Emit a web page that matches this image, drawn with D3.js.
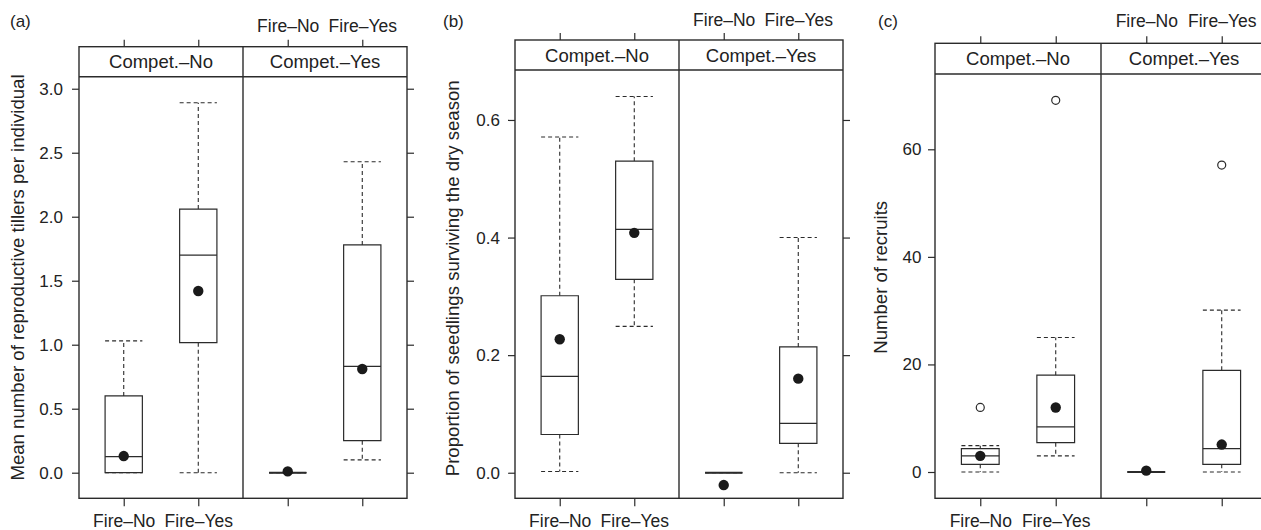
<!DOCTYPE html>
<html>
<head>
<meta charset="utf-8">
<script src="https://cdn.jsdelivr.net/npm/d3@7"></script>
<style>
  body { margin: 0; background: #fff; }
  svg { display: block; }
  svg text { font-family: "Liberation Sans", Arial, sans-serif; }
</style>
</head>
<body>
<svg id="chart" width="1261" height="530"></svg>
<script>
// factor levels
var competLevels = ["Compet.\u2013No", "Compet.\u2013Yes"];
var fireLevels = ["Fire\u2013No", "Fire\u2013Yes"];

// box stats per group, order: [CompNo/FireNo, CompNo/FireYes, CompYes/FireNo, CompYes/FireYes]
// each row: [lower whisker, q1, median, q3, upper whisker]
var tillersBox = [[0, 0, 0.125, 0.60, 1.03], [0, 1.016, 1.70, 2.06, 2.89], [0, 0, 0, 0, 0], [0.10, 0.25, 0.83, 1.78, 2.43]];
var tillersMean = [0.13, 1.42, 0.01, 0.81];
var tillersOut = [[], [], [], []];
var tillersTicks = [0, 0.5, 1, 1.5, 2, 2.5, 3];

var survivalBox = [[0.002, 0.065, 0.164, 0.301, 0.571], [0.249, 0.329, 0.414, 0.530, 0.640], [0, 0, 0, 0, 0], [0, 0.05, 0.084, 0.214, 0.40]];
var survivalMean = [0.227, 0.408, -0.021, 0.16];
var survivalOut = [[], [], [], []];
var survivalTicks = [0, 0.2, 0.4, 0.6];

var recruitsBox = [[0, 1.43, 3.0, 4.33, 4.9], [3, 5.45, 8.4, 18, 25], [0, 0, 0, 0, 0], [0, 1.43, 4.33, 18.9, 30.1]];
var recruitsMean = [3, 12, 0.25, 5.1];
var recruitsOut = [[12], [69.1], [], [57.06]];
var recruitsTicks = [0, 20, 40, 60];

var panels = [
    {tag: "(a)", ylab: "Mean number of reproductive tillers per individual", box: tillersBox, mean: tillersMean, out: tillersOut,
     ticks: tillersTicks, fmt: d3.format(".1f"), yDom: [-0.2, 3.094],
     x0: 79, w: 164, top: 46.7, strip: 76.7, bottom: 498.3, tagX: 10, ylabX: 24, ylabY: 277.5, topPad: 8, leftPad: 9},
    {tag: "(b)", ylab: "Proportion of seedlings surviving the dry season", box: survivalBox, mean: survivalMean, out: survivalOut,
     ticks: survivalTicks, fmt: d3.format(".1f"), yDom: [-0.0435, 0.685],
     x0: 515, w: 164, top: 40, strip: 70, bottom: 498.3, tagX: 443, ylabX: 459, ylabY: 278.3, topPad: 7, leftPad: 8},
    {tag: "(c)", ylab: "Number of recruits", box: recruitsBox, mean: recruitsMean, out: recruitsOut,
     ticks: recruitsTicks, fmt: d3.format("d"), yDom: [-4.89, 74.0],
     x0: 935, w: 166, top: 43.3, strip: 74, bottom: 498.3, tagX: 878, ylabX: 886.7, ylabY: 277.3, topPad: 9.5, leftPad: 6.5}
];

var ink = "#2b2b2b";
var svg = d3.select("#chart");

panels.forEach(function (p) {

    var g = svg.append("g");

    var y = d3.scaleLinear().domain(p.yDom).range([p.bottom, p.strip]);

    // one point scale per facet
    var xs = competLevels.map(function (c, i) {
        return d3.scalePoint().domain(fireLevels).range([p.x0 + i * p.w, p.x0 + (i + 1) * p.w]).padding(0.6);
    });
    var boxW = xs[0].step() * 0.5;

    // axes
    g.append("g")
        .attr("class", "yax")
        .attr("transform", "translate(" + p.x0 + ",0)")
        .call(d3.axisLeft(y).tickValues(p.ticks).tickFormat(p.fmt).tickSize(7).tickPadding(p.leftPad));

    g.append("g")
        .attr("transform", "translate(" + (p.x0 + 2 * p.w) + ",0)")
        .call(d3.axisRight(y).tickValues(p.ticks).tickFormat("").tickSize(7));

    xs.forEach(function (x, i) {
        g.append("g")
            .attr("class", "xax")
            .attr("transform", "translate(0," + p.top + ")")
            .call(d3.axisTop(x).tickSize(7).tickPadding(p.topPad).tickFormat(i === 1 ? null : ""));
        g.append("g")
            .attr("class", "xax")
            .attr("transform", "translate(0," + p.bottom + ")")
            .call(d3.axisBottom(x).tickSize(8).tickPadding(8).tickFormat(i === 0 ? null : ""));
    });

    g.selectAll(".domain").remove();
    g.selectAll(".tick line").attr("stroke", ink).attr("stroke-width", 1.2);
    g.selectAll(".tick text").attr("fill", "#222").attr("font-family", null);
    g.selectAll(".yax .tick text").style("font-size", "17px");
    g.selectAll(".xax .tick text").style("font-size", "17.5px");

    // frame, strips, divider
    g.append("rect")
        .attr("x", p.x0).attr("y", p.top)
        .attr("width", 2 * p.w).attr("height", p.bottom - p.top)
        .attr("fill", "none").attr("stroke", ink).attr("stroke-width", 1.4);

    g.append("line")
        .attr("x1", p.x0).attr("x2", p.x0 + 2 * p.w)
        .attr("y1", p.strip).attr("y2", p.strip)
        .attr("stroke", ink).attr("stroke-width", 1.4);

    g.append("line")
        .attr("x1", p.x0 + p.w).attr("x2", p.x0 + p.w)
        .attr("y1", p.top).attr("y2", p.bottom)
        .attr("stroke", ink).attr("stroke-width", 1.4);

    g.selectAll(".strip")
        .data(competLevels)
        .enter().append("text")
        .attr("x", function (d, i) { return p.x0 + (i + 0.5) * p.w; })
        .attr("y", (p.top + p.strip) / 2)
        .attr("dy", "0.36em")
        .attr("text-anchor", "middle")
        .style("font-size", "18.5px")
        .attr("fill", "#222")
        .text(function (d) { return d; });

    // boxes
    var groups = p.box.map(function (b, k) {
        var ci = Math.floor(k / 2), fi = k % 2;
        return {cx: xs[ci](fireLevels[fi]), b: b, mean: p.mean[k], out: p.out[k]};
    });

    var grp = g.selectAll(".grp").data(groups).enter().append("g");

    // upper and lower whiskers
    grp.append("path")
        .attr("d", function (d) {
            return "M" + d.cx + "," + y(d.b[3]) + "V" + y(d.b[4]) +
                "M" + (d.cx - boxW / 2) + "," + y(d.b[4]) + "H" + (d.cx + boxW / 2) +
                "M" + d.cx + "," + y(d.b[1]) + "V" + y(d.b[0]) +
                "M" + (d.cx - boxW / 2) + "," + y(d.b[0]) + "H" + (d.cx + boxW / 2);
        })
        .attr("fill", "none").attr("stroke", ink).attr("stroke-width", 1.1)
        .attr("stroke-dasharray", "4,3");

    grp.append("path")
        .attr("d", function (d) {
            return "M" + (d.cx - boxW / 2) + "," + y(d.b[3]) + "H" + (d.cx + boxW / 2) +
                "V" + y(d.b[1]) + "H" + (d.cx - boxW / 2) + "Z";
        })
        .attr("fill", "#fff").attr("stroke", ink).attr("stroke-width", 1.2);

    grp.append("line")
        .attr("x1", function (d) { return d.cx - boxW / 2; })
        .attr("x2", function (d) { return d.cx + boxW / 2; })
        .attr("y1", function (d) { return y(d.b[2]); })
        .attr("y2", function (d) { return y(d.b[2]); })
        .attr("stroke", ink)
        .attr("stroke-width", function (d) { return d.b[1] === d.b[3] ? 2 : 1.2; });

    // outliers
    grp.selectAll(".out")
        .data(function (d) { return d.out.map(function (v) { return {cx: d.cx, v: v}; }); })
        .enter().append("circle")
        .attr("cx", function (d) { return d.cx; })
        .attr("cy", function (d) { return y(d.v); })
        .attr("r", 4)
        .attr("fill", "none").attr("stroke", ink).attr("stroke-width", 1.2);

    // means
    grp.append("circle")
        .attr("cx", function (d) { return d.cx; })
        .attr("cy", function (d) { return y(d.mean); })
        .attr("r", 5.2)
        .attr("fill", "#1a1a1a");

    // titles
    g.append("text")
        .attr("x", p.tagX).attr("y", 27)
        .style("font-size", "17px").attr("fill", "#222")
        .text(p.tag);

    g.append("text")
        .attr("transform", "translate(" + p.ylabX + "," + p.ylabY + ") rotate(-90)")
        .attr("text-anchor", "middle")
        .style("font-size", "18.6px").attr("fill", "#222")
        .text(p.ylab);
});
</script>
</body>
</html>
